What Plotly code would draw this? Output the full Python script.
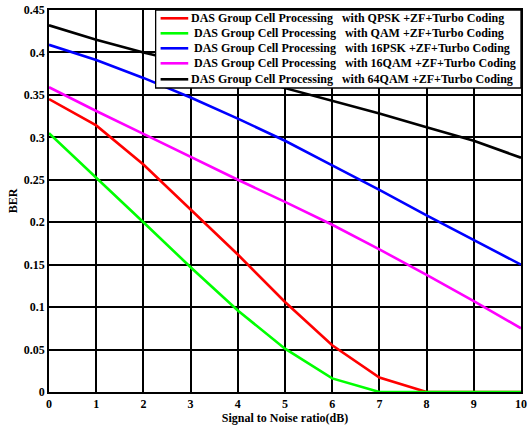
import plotly.graph_objects as go

snr = [0, 1, 2, 3, 4, 5, 6, 7, 8, 9, 10]
ber_qpsk = [0.345, 0.314, 0.268, 0.215, 0.162, 0.106, 0.055, 0.017, 0.0, 0.0, 0.0]
ber_qam = [0.305, 0.253, 0.200, 0.147, 0.096, 0.051, 0.016, 0.0, 0.0, 0.0, 0.0]
ber_16psk = [0.409, 0.391, 0.370, 0.347, 0.322, 0.296, 0.267, 0.238, 0.208, 0.179, 0.150]
ber_16qam = [0.359, 0.331, 0.304, 0.277, 0.250, 0.224, 0.197, 0.168, 0.138, 0.107, 0.075]
ber_64qam = [0.432, 0.415, 0.400, 0.387, 0.373, 0.358, 0.343, 0.328, 0.312, 0.296, 0.276]

y_ticks = [0, 0.05, 0.1, 0.15, 0.2, 0.25, 0.3, 0.35, 0.4, 0.45]
y_ticktext = ["0", "0.05", "0.1", "0.15", "0.2", "0.25", "0.3", "0.35", "0.4", "0.45"]

sp = "\u00a0"
names = [
    "DAS Group Cell Processing" + sp * 3 + "with QPSK +ZF+Turbo Coding",
    "DAS Group Cell Processing" + sp * 3 + "with QAM +ZF+Turbo Coding",
    "DAS Group Cell Processing" + sp * 3 + "with 16PSK +ZF+Turbo Coding",
    "DAS Group Cell Processing" + sp * 3 + "with 16QAM +ZF+Turbo Coding",
    "DAS Group Cell Processing" + sp * 3 + "with 64QAM +ZF+Turbo Coding",
]
series = [ber_qpsk, ber_qam, ber_16psk, ber_16qam, ber_64qam]
colors = ["#ff0000", "#00ff00", "#0000ff", "#ff00ff", "#000000"]

W, H = 530, 425
ML, MR, MT, MB = 49, 3, 10, 33
PW, PH = W - ML - MR, H - MT - MB


def px(x):
    return (x - ML) / PW


def py(y):
    return (H - MB - y) / PH


font = "Liberation Serif, Times New Roman, serif"

fig = go.Figure()
for n, s, c in zip(names, series, colors):
    fig.add_trace(go.Scatter(x=snr, y=s, mode="lines", name=n, showlegend=False,
                             line=dict(color=c, width=2.6)))

# legend box (drawn manually to match compact MATLAB legend)
shapes = [dict(type="rect", xref="paper", yref="paper",
               x0=px(157), x1=px(527), y0=py(88), y1=py(10),
               fillcolor="white", line=dict(color="black", width=1.3), layer="above")]
annotations = []
row_y = [18.3, 33.3, 48.3, 63.3, 79.3]
text_x = [192, 195, 195, 195, 192]
for n, c, ry, tx in zip(names, colors, row_y, text_x):
    shapes.append(dict(type="line", xref="paper", yref="paper",
                       x0=px(162), x1=px(190), y0=py(ry), y1=py(ry),
                       line=dict(color=c, width=2.6), layer="above"))
    annotations.append(dict(xref="paper", yref="paper", x=px(tx), y=py(ry),
                            xanchor="left", yanchor="middle", showarrow=False,
                            text=n, borderpad=0,
                            font=dict(family=font, size=12, color="black", weight="bold")))

fig.update_layout(
    width=W, height=H,
    margin=dict(l=ML, r=MR, t=MT, b=MB),
    paper_bgcolor="white", plot_bgcolor="white",
    font=dict(family=font, color="black", size=12),
    showlegend=False,
    shapes=shapes,
    annotations=annotations,
    xaxis=dict(
        range=[0, 10], tickmode="array", tickvals=snr,
        ticktext=[str(v) for v in snr],
        showgrid=True, gridcolor="black", gridwidth=1.6,
        showline=True, mirror=True, linecolor="black", linewidth=1.6,
        zeroline=False, ticks="inside", ticklen=4, tickcolor="black",
        ticklabeloverflow="allow", layer="below traces",
        tickfont=dict(family=font, size=12, weight="bold"),
        title=dict(text="Signal to Noise ratio(dB)", standoff=0,
                   font=dict(family=font, size=12, weight="bold")),
    ),
    yaxis=dict(
        range=[0, 0.45], tickmode="array",
        tickvals=y_ticks, ticktext=y_ticktext,
        showgrid=True, gridcolor="black", gridwidth=1.6,
        showline=True, mirror=True, linecolor="black", linewidth=1.6,
        zeroline=False, ticks="inside", ticklen=4, tickcolor="black",
        layer="below traces",
        tickfont=dict(family=font, size=12, weight="bold"),
        title=dict(text="BER", standoff=4,
                   font=dict(family=font, size=12, weight="bold")),
    ),
)
fig.write_html("out.html")
